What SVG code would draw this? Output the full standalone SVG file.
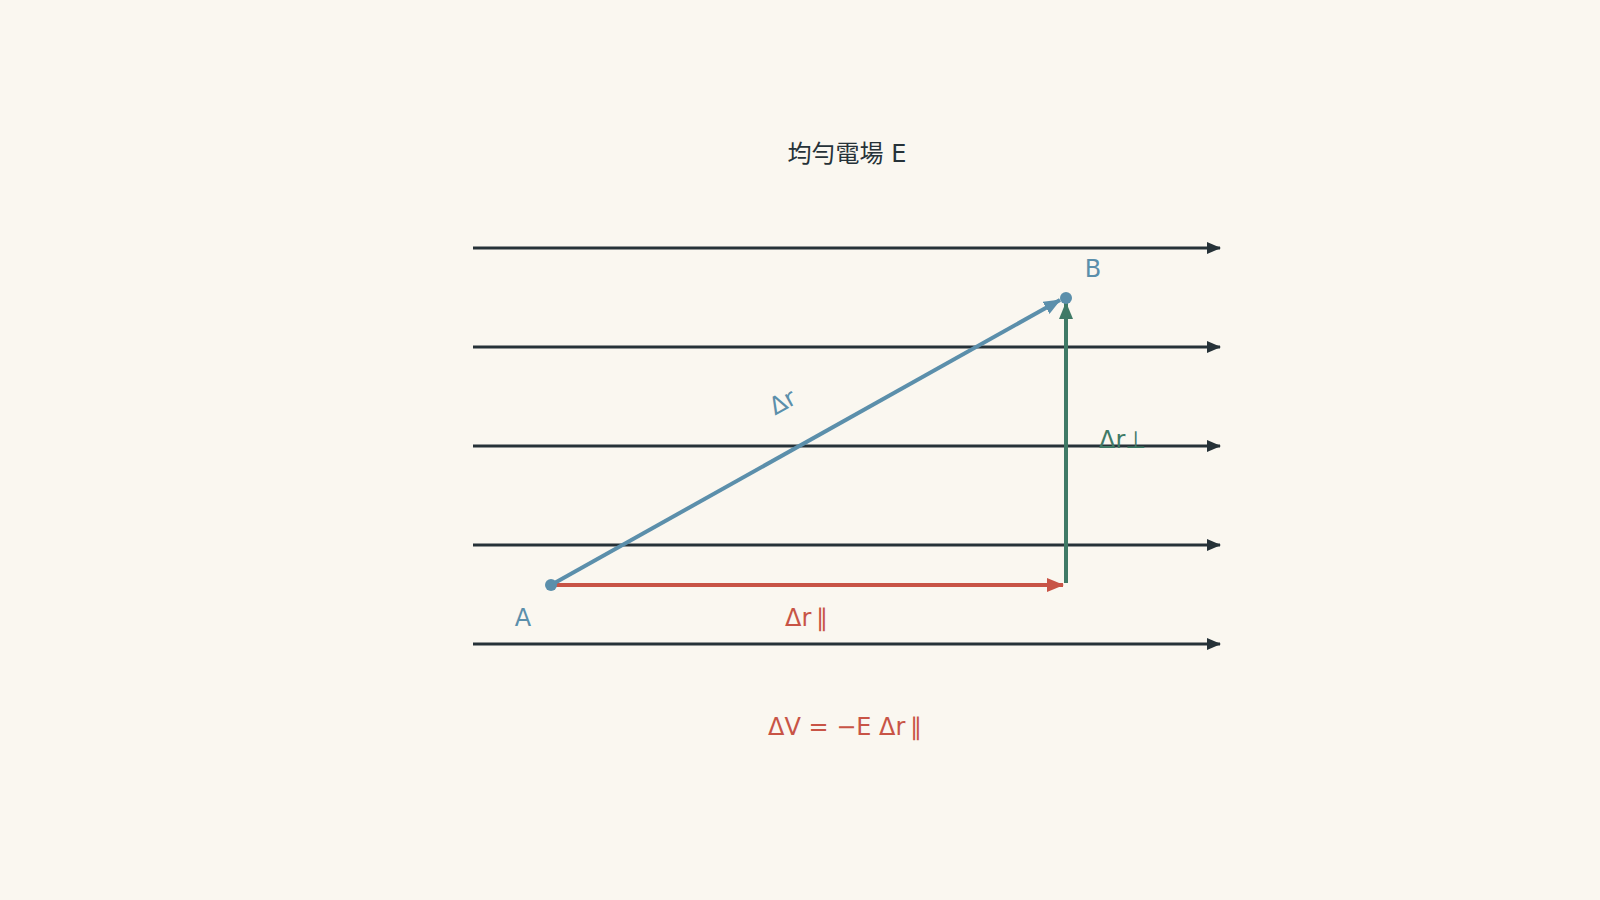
<svg xmlns="http://www.w3.org/2000/svg" width="1600" height="900" viewBox="0 0 1600 900">
<style>
text{font-family:"DejaVu Sans","Noto Sans CJK TC",sans-serif;font-size:24px}
.par{font-family:"DejaVu Sans",sans-serif;font-weight:200}
.field{stroke:#263238;stroke-width:3;fill:none}
.t-dark{fill:#263238}
.t-blue{fill:#5b8fab}
.t-red{fill:#c85446}
.t-green{fill:#3f7a66}
</style>
<defs>
<marker id="ah-dark" markerUnits="userSpaceOnUse" markerWidth="14" markerHeight="12" refX="13" refY="6" orient="auto"><path d="M0,0 L14,6 L0,12 Z" fill="#263238"/></marker>
<marker id="ah-blue" markerUnits="userSpaceOnUse" markerWidth="17" markerHeight="14" refX="16" refY="7" orient="auto"><path d="M0,0 L17,7 L0,14 Z" fill="#5b8fab"/></marker>
<marker id="ah-red" markerUnits="userSpaceOnUse" markerWidth="17" markerHeight="14" refX="16" refY="7" orient="auto"><path d="M0,0 L17,7 L0,14 Z" fill="#c85446"/></marker>
<marker id="ah-green" markerUnits="userSpaceOnUse" markerWidth="17" markerHeight="14" refX="16" refY="7" orient="auto"><path d="M0,0 L17,7 L0,14 Z" fill="#3f7a66"/></marker>
</defs>
<rect width="1600" height="900" fill="#faf7f0"/>
<g id="title"><text class="t-dark" x="847" y="162" text-anchor="middle">均勻電場 E</text></g>
<g id="connectors">
<line class="field" x1="473" y1="248" x2="1220" y2="248" marker-end="url(#ah-dark)"/>
<line class="field" x1="473" y1="347" x2="1220" y2="347" marker-end="url(#ah-dark)"/>
<line class="field" x1="473" y1="446" x2="1220" y2="446" marker-end="url(#ah-dark)"/>
<line class="field" x1="473" y1="545" x2="1220" y2="545" marker-end="url(#ah-dark)"/>
<line class="field" x1="473" y1="644" x2="1220" y2="644" marker-end="url(#ah-dark)"/>
<line x1="551" y1="585" x2="1063" y2="585" stroke="#c85446" stroke-width="4" marker-end="url(#ah-red)"/>
<line x1="1066" y1="583" x2="1066" y2="303" stroke="#3f7a66" stroke-width="4" marker-end="url(#ah-green)"/>
<line x1="551" y1="585" x2="1060" y2="300" stroke="#5b8fab" stroke-width="4" marker-end="url(#ah-blue)"/>
</g>
<g id="point-A"><circle cx="551" cy="585" r="6" fill="#5b8fab"/><text class="t-blue" x="523" y="626" text-anchor="middle">A</text></g>
<g id="point-B"><circle cx="1066" cy="298" r="6" fill="#5b8fab"/><text class="t-blue" x="1093" y="277" text-anchor="middle">B</text></g>
<g id="label-dr"><text class="t-blue" x="783" y="410" text-anchor="middle" transform="rotate(-29 783 403)">Δr</text></g>
<g id="label-dr-perp"><text class="t-green" x="1099" y="448">Δr⊥</text></g>
<g id="label-dr-par"><text class="t-red" x="785" y="626">Δr<tspan class="par" dx="5">∥</tspan></text></g>
<g id="formula"><text class="t-red" x="768" y="735">ΔV = −E Δr<tspan class="par" dx="5">∥</tspan></text></g>
</svg>
